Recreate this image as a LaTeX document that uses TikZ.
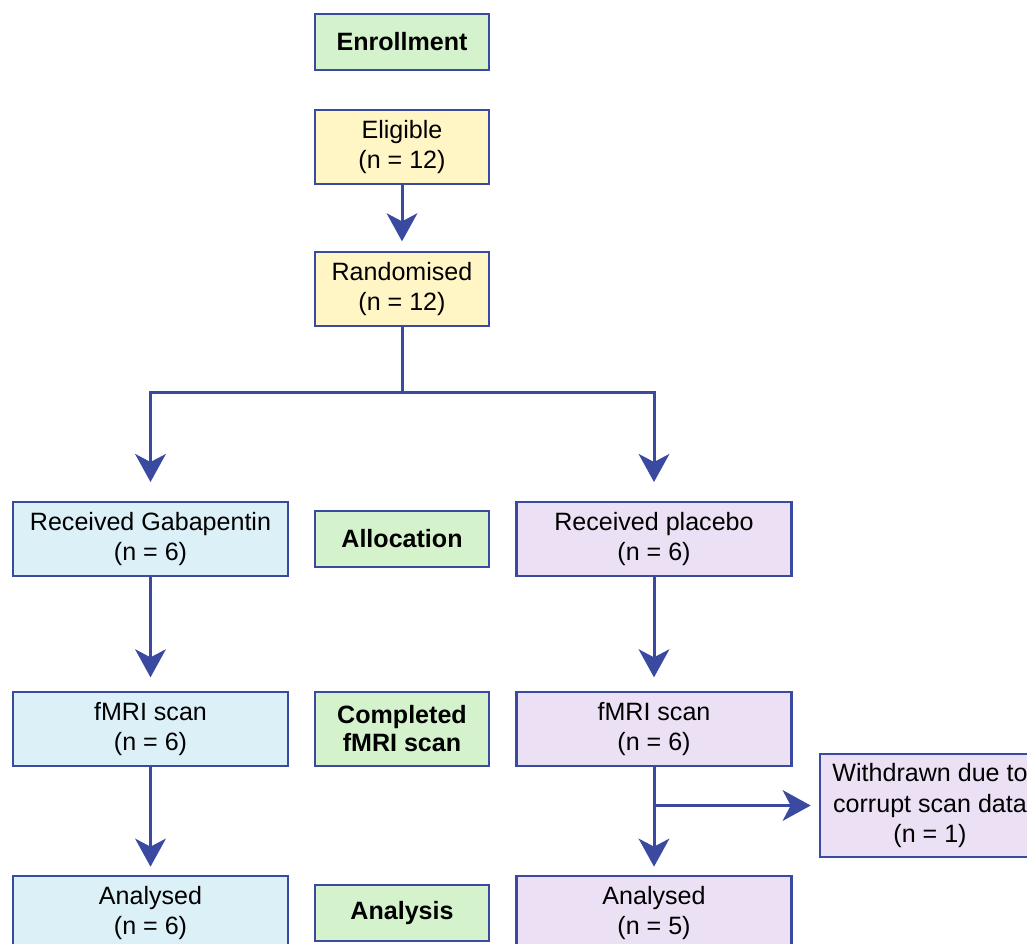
\documentclass[tikz,border=0pt]{standalone}
\usepackage{fontspec}
\setmainfont{Liberation Sans}
\usetikzlibrary{arrows.meta}
\definecolor{bordc}{HTML}{3A4AA0}
\definecolor{greenf}{HTML}{D4F2CC}
\definecolor{yellowf}{HTML}{FFF5C5}
\definecolor{bluef}{HTML}{DCF0F8}
\definecolor{lavf}{HTML}{ECE0F4}
\begin{document}
\begin{tikzpicture}[x=0.75pt,y=-0.75pt,
  box/.style={draw=bordc,line width=2pt,inner sep=0pt,align=center,
    font=\fontsize{18.8}{23}\selectfont},
  stage/.style={box,fill=greenf,minimum width={174*0.75pt},font=\fontsize{18.8}{21}\selectfont\bfseries},
  narrow/.style={box,minimum width={174*0.75pt},minimum height={74*0.75pt}},
  wide/.style={box,minimum width={275*0.75pt},minimum height={74*0.75pt}},
  conn/.style={draw=bordc,line width=2.25pt},
  arr/.style={conn,-{Stealth[length=21pt,width=23pt,inset=6pt]}}
]
\useasboundingbox (0,0) rectangle (1027,943);
\clip (0,0) rectangle (1027,943);
\node[stage,minimum height={56*0.75pt}] (enroll) at (402,42) {Enrollment};
\node[narrow,fill=yellowf] (elig) at (402,147) {Eligible\\(n = 12)};
\node[narrow,fill=yellowf] (rand) at (402,289) {Randomised\\(n = 12)};
\node[wide,fill=bluef] (gaba) at (150.5,539) {Received Gabapentin\\(n = 6)};
\node[stage,minimum height={56*0.75pt}] (alloc) at (402,539) {Allocation};
\node[wide,fill=lavf] (plac) at (654,539) {Received placebo\\(n = 6)};
\node[wide,fill=bluef] (fmril) at (150.5,729) {fMRI scan\\(n = 6)};
\node[stage,minimum height={74*0.75pt}] (compl) at (402,729) {Completed\\fMRI scan};
\node[wide,fill=lavf] (fmrir) at (654,729) {fMRI scan\\(n = 6)};
\node[box,fill=lavf,minimum width={220*0.75pt},minimum height={103*0.75pt}] (withd) at (930,805.5) {Withdrawn due to\\corrupt scan data\\(n = 1)};
\node[wide,fill=bluef] (anall) at (150.5,913) {Analysed\\(n = 6)};
\node[stage,minimum height={56*0.75pt}] (analysis) at (402,913) {Analysis};
\node[wide,fill=lavf] (analr) at (654,913) {Analysed\\(n = 5)};
\coordinate (split) at (402,392);
\coordinate (branch) at (654,805.5);
\draw[arr,shorten >=7pt] (elig.south) -- (rand.north);
\draw[conn] (rand.south) -- (split);
\draw[arr,shorten >=14pt] (split) -| (gaba.north);
\draw[arr,shorten >=14pt] (split) -| (plac.north);
\draw[arr,shorten >=10pt] (gaba.south) -- (fmril.north);
\draw[arr,shorten >=10pt] (plac.south) -- (fmrir.north);
\draw[arr,shorten >=6pt] (fmril.south) -- (anall.north);
\draw[arr,shorten >=6pt] (fmrir.south) -- (analr.north);
\draw[arr,shorten >=6pt] (branch) -- (withd.west);
\end{tikzpicture}
\end{document}
